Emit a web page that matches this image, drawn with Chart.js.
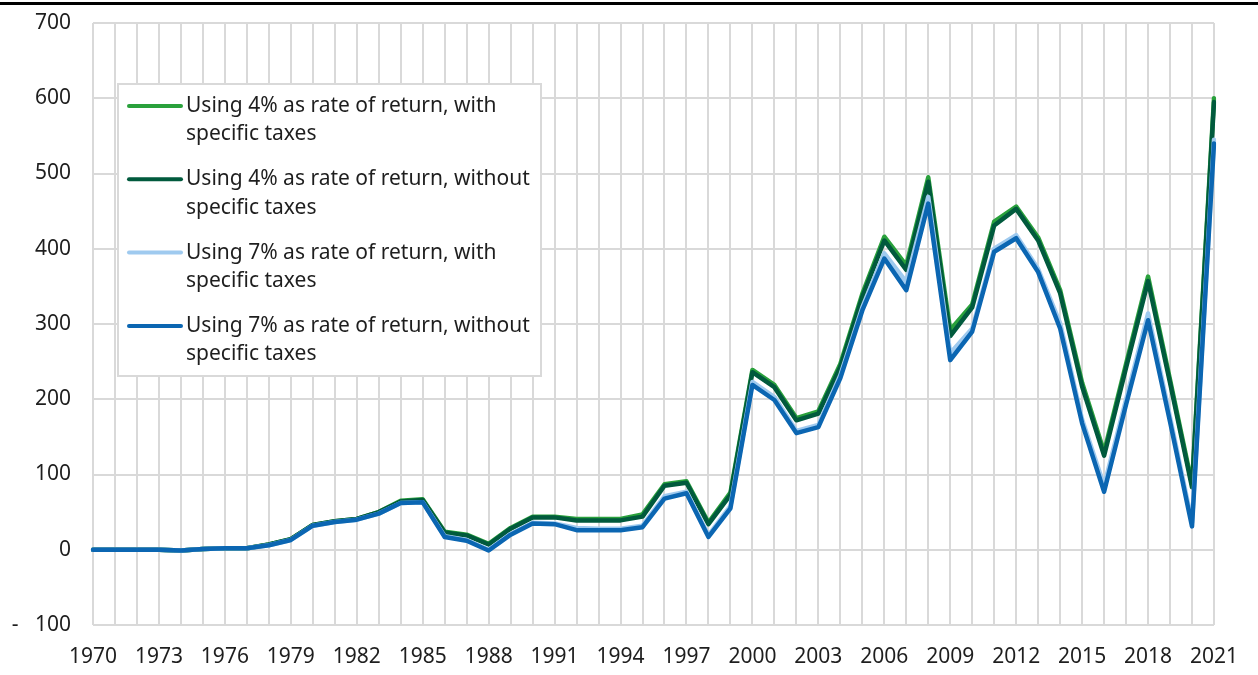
<!DOCTYPE html>
<html>
<head>
<meta charset="utf-8">
<script src="https://cdn.jsdelivr.net/npm/chart.js@4.4.1/dist/chart.umd.min.js"></script>
<style>
  html, body { margin: 0; padding: 0; background: #fff; }
  #wrap { position: relative; width: 1258px; height: 675px; }
</style>
</head>
<body>
<div id="wrap"><canvas id="chart"></canvas></div>
<script>
const years = [
    '1970', '1971', '1972', '1973', '1974', '1975', '1976', '1977', '1978', '1979',
    '1980', '1981', '1982', '1983', '1984', '1985', '1986', '1987', '1988', '1989',
    '1990', '1991', '1992', '1993', '1994', '1995', '1996', '1997', '1998', '1999',
    '2000', '2001', '2002', '2003', '2004', '2005', '2006', '2007', '2008', '2009',
    '2010', '2011', '2012', '2013', '2014', '2015', '2016', '2017', '2018', '2019',
    '2020', '2021'
];

// 4% rate of return, with specific taxes
const rate4WithTaxes = [
    0, 0, 0, 0, -1, 1, 2, 2, 7, 14,
    33, 38, 41, 50, 65, 67, 24, 20, 8, 29,
    44, 44, 41, 41, 41, 47, 87, 91, 36, 76,
    239, 219, 175, 184, 247, 340, 416, 378, 495, 292,
    326, 436, 456, 415, 345, 222, 130, 247, 363, 226,
    87, 600
];

// 4% rate of return, without specific taxes
const rate4WithoutTaxes = [
    0, 0, 0, 0, -1, 1, 2, 2, 7, 14,
    33, 38, 41, 50, 64, 66, 23, 19, 7, 28,
    43, 43, 39, 39, 39, 44, 85, 89, 34, 73,
    236, 216, 172, 181, 243, 336, 411, 372, 489, 284,
    322, 431, 453, 411, 341, 217, 125, 242, 357, 222,
    83, 595
];

// 7% rate of return, with specific taxes
const rate7WithTaxes = [
    0, 0, 0, 0, -1, 1, 2, 2, 6, 13,
    32, 37, 40, 48, 62, 63, 18, 13, 0, 21,
    36, 35, 29, 28, 28, 32, 71, 77, 19, 58,
    223, 203, 158, 166, 232, 322, 394, 356, 469, 261,
    294, 400, 418, 373, 301, 173, 85, 200, 314, 176,
    36, 545
];

// 7% rate of return, without specific taxes
const rate7WithoutTaxes = [
    0, 0, 0, 0, -1, 1, 2, 2, 6, 13,
    32, 37, 40, 48, 62, 63, 17, 12, -1, 20,
    35, 34, 26, 26, 26, 30, 68, 75, 17, 55,
    219, 199, 155, 163, 228, 318, 387, 345, 460, 252,
    290, 396, 414, 369, 294, 168, 77, 193, 305, 170,
    31, 540
];

const seriesLabels = [
    ['Using 4% as rate of return, with', 'specific taxes'],
    ['Using 4% as rate of return, without', 'specific taxes'],
    ['Using 7% as rate of return, with', 'specific taxes'],
    ['Using 7% as rate of return, without', 'specific taxes']
];
const seriesColors = ['#2aa13c', '#015a3d', '#9fcaef', '#0b66b2'];

const FONT = "'Noto Sans', 'Open Sans', sans-serif";
const TEXT_COLOR = '#1e1e1e';
const GRID_COLOR = '#d9d9d9';

// Legend box drawn inside the plot area, plus the black rule at the top
const overlayPlugin = {
    id: 'overlay',
    afterDraw(chart) {
        const ctx = chart.ctx;
        const area = chart.chartArea;
        ctx.save();

        ctx.fillStyle = '#000';
        ctx.fillRect(0, 2, chart.width, 3);

        const boxX = area.left + 25;
        const boxY = area.top + 61;
        const boxW = 423;
        const boxH = 292;
        ctx.fillStyle = '#fff';
        ctx.fillRect(boxX, boxY, boxW, boxH);
        ctx.strokeStyle = GRID_COLOR;
        ctx.lineWidth = 2;
        ctx.strokeRect(boxX, boxY, boxW, boxH);

        ctx.font = '21px ' + FONT;
        ctx.textBaseline = 'middle';
        ctx.textAlign = 'left';
        chart.data.datasets.forEach((ds, i) => {
            const rowY = boxY + 22 + i * 73.3;
            ctx.strokeStyle = ds.borderColor;
            ctx.lineWidth = 4;
            ctx.lineCap = 'round';
            ctx.beginPath();
            ctx.moveTo(boxX + 11, rowY);
            ctx.lineTo(boxX + 63, rowY);
            ctx.stroke();
            ctx.fillStyle = TEXT_COLOR;
            seriesLabels[i].forEach((line, j) => {
                ctx.fillText(line, boxX + 68, rowY + j * 28.3);
            });
        });
        ctx.restore();
    }
};

const makeDataset = (idx, data, order) => ({
    label: seriesLabels[idx].join(' '),
    data,
    borderColor: seriesColors[idx],
    backgroundColor: seriesColors[idx],
    borderWidth: 4.5,
    borderJoinStyle: 'round',
    borderCapStyle: 'round',
    pointRadius: 0,
    tension: 0,
    order
});

const ctx = document.getElementById('chart').getContext('2d');
new Chart(ctx, {
    type: 'line',
    data: {
        labels: years,
        datasets: [
            makeDataset(0, rate4WithTaxes, 4),
            makeDataset(1, rate4WithoutTaxes, 3),
            makeDataset(2, rate7WithTaxes, 2),
            makeDataset(3, rate7WithoutTaxes, 1)
        ]
    },
    options: {
        responsive: true,
        maintainAspectRatio: false,
        animation: false,
        layout: {
            padding: { top: 23, right: 44, bottom: 0, left: 0 }
        },
        plugins: {
            legend: { display: false },
            tooltip: { enabled: false }
        },
        scales: {
            x: {
                offset: false,
                grid: { color: GRID_COLOR, lineWidth: 2, drawTicks: false },
                border: { display: false },
                ticks: {
                    autoSkip: false,
                    maxRotation: 0,
                    minRotation: 0,
                    padding: 19,
                    color: TEXT_COLOR,
                    font: { family: FONT, size: 21 },
                    callback: function (value, index) {
                        return index % 3 === 0 ? this.getLabelForValue(value) : '';
                    }
                },
                afterFit: scale => { scale.height = 50; }
            },
            y: {
                min: -100,
                max: 700,
                grid: { color: GRID_COLOR, lineWidth: 2, drawTicks: false },
                border: { display: false },
                ticks: {
                    stepSize: 100,
                    padding: 22,
                    color: TEXT_COLOR,
                    font: { family: FONT, size: 21 },
                    callback: value => value < 0 ? '-   ' + Math.abs(value) : String(value)
                },
                afterFit: scale => {
                    scale.width = 93;
                    // tick padding should not push the plot down
                    scale.paddingTop = 0;
                    scale.paddingBottom = 0;
                }
            }
        }
    },
    plugins: [overlayPlugin]
});
</script>
</body>
</html>
